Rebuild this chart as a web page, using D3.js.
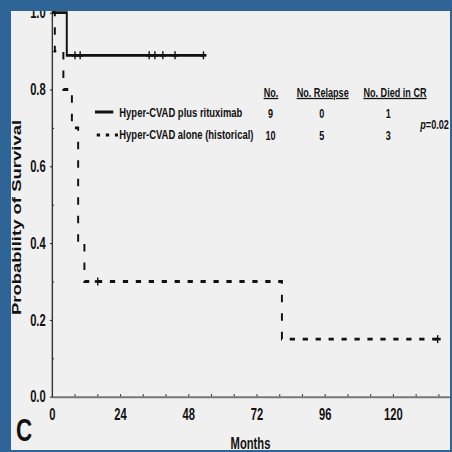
<!DOCTYPE html>
<html>
<head>
<meta charset="utf-8">
<script src="https://cdn.jsdelivr.net/npm/d3@7"></script>
<style>
  html, body { margin: 0; padding: 0; background: #2f6497; }
  svg { display: block; }
  text { font-family: "Liberation Sans", Arial, sans-serif; font-weight: bold; fill: #111; }
</style>
</head>
<body>
<svg id="chart" width="452" height="452"></svg>
<script>
// Kaplan-Meier curves, months vs probability
const rituxTimes = [0, 5.2, 53.5];
const rituxSurv = [1.0, 0.889, 0.889];
const rituxCensored = [8.1, 9.9, 34.2, 36.2, 39.0, 43.3, 53.3];

const histTimes = [0, 1, 4, 7, 9.2, 11.4, 80.9, 135.7];
const histSurv = [1.0, 0.9, 0.8, 0.7, 0.4, 0.3, 0.15, 0.15];
const histCensored = [16.1, 135.7];

const xTicks = [0, 24, 48, 72, 96, 120];
const yTicks = [0, 0.2, 0.4, 0.6, 0.8, 1.0];
const yMinorTicks = [0.1, 0.3, 0.5, 0.7, 0.9];

const legendLabels = ["Hyper-CVAD plus rituximab", "Hyper-CVAD alone (historical)"];
const tableHeaders = ["No.", "No. Relapse", "No. Died in CR"];
const tableRows = [[9, 0, 1], [10, 5, 3]];
const pValue = "0.02";

const W = 452, H = 452;
const squeeze = 0.7; // the whole figure looks squashed sideways
const sx = v => v / squeeze;

const svg = d3.select("#chart");

svg.append("rect").attr("width", W).attr("height", H).attr("fill", "#2f6497");
svg.append("defs").append("clipPath").attr("id", "panel")
  .append("rect").attr("x", 11).attr("y", 11).attr("width", 439).attr("height", 439);
svg.append("rect").attr("x", 11).attr("y", 11).attr("width", 439).attr("height", 439)
  .attr("fill", "#f0f0f0");

const fig = svg.append("g").attr("clip-path", "url(#panel)")
  .append("g").attr("transform", `scale(${squeeze},1)`);

const x = d3.scaleLinear().domain([0, 140]).range([sx(52), sx(449.9)]);
const y = d3.scaleLinear().domain([0, 1.01]).range([396.7, 396.7 - 384 * 1.01]);

// x axis
const xMinor = fig.append("g").attr("transform", `translate(0,${y(0)})`)
  .call(d3.axisBottom(x).tickValues(d3.range(8, 140, 8)).tickSize(-2.5).tickFormat(""));
xMinor.select(".domain").remove();
xMinor.selectAll("line").attr("stroke", "#333").attr("stroke-width", 1.6);

const xAxis = fig.append("g").attr("transform", `translate(0,${y(0)})`)
  .call(d3.axisBottom(x).tickValues(xTicks).tickSize(0).tickSizeOuter(0).tickPadding(12));
xAxis.attr("font-size", 16).attr("font-family", null);
xAxis.select(".domain").attr("stroke", "#777").attr("stroke-width", 2);

// y axis
const yMinor = fig.append("g").attr("transform", `translate(${x(0)},0)`)
  .call(d3.axisLeft(y).tickValues(yMinorTicks).tickSize(-3).tickFormat(""));
yMinor.select(".domain").remove();

const yAxis = fig.append("g").attr("transform", `translate(${x(0)},0)`)
  .call(d3.axisLeft(y).tickValues(yTicks).tickFormat(d3.format(".1f"))
    .tickSizeInner(3).tickSizeOuter(0).tickPadding(6));
yAxis.attr("font-size", 16).attr("font-family", null);
yAxis.select(".domain").attr("stroke", "#333").attr("stroke-width", 2);

// curves
const line = d3.line()
  .x(d => x(d[0]))
  .y(d => y(d[1]))
  .curve(d3.curveStepAfter);

fig.append("path")
  .datum(d3.zip(rituxTimes, rituxSurv))
  .attr("d", line)
  .attr("fill", "none")
  .attr("stroke", "#111")
  .attr("stroke-width", 2.8);

fig.append("path")
  .datum(d3.zip(histTimes, histSurv))
  .attr("d", line)
  .attr("fill", "none")
  .attr("stroke", "#111")
  .attr("stroke-width", 2.8)
  .attr("stroke-dasharray", "7.5,11");

function survAt(times, surv, t) {
  let s = surv[0];
  times.forEach((tt, i) => { if (tt <= t) s = surv[i]; });
  return s;
}

function censorMarks(times, surv, censored) {
  const g = fig.append("g").attr("stroke", "#111").attr("stroke-width", 2);
  censored.forEach(t => {
    const cx = x(t), cy = y(survAt(times, surv, t));
    g.append("line").attr("x1", cx).attr("x2", cx).attr("y1", cy - 4).attr("y2", cy + 4);
    g.append("line").attr("x1", cx - sx(3)).attr("x2", cx + sx(3)).attr("y1", cy).attr("y2", cy)
      .attr("stroke-width", 2.6);
  });
}
censorMarks(rituxTimes, rituxSurv, rituxCensored);
censorMarks(histTimes, histSurv, histCensored);

// text helpers (positions given in screen pixels)
function label(txt, px, py, size, anchor) {
  return fig.append("text")
    .attr("x", sx(px)).attr("y", py)
    .attr("font-size", size)
    .attr("text-anchor", anchor || "start")
    .text(txt);
}

// legend
const legendY = [117.5, 139.5];
fig.append("line").attr("x1", sx(95)).attr("x2", sx(113.3))
  .attr("y1", 112).attr("y2", 112).attr("stroke", "#111").attr("stroke-width", 3);
fig.append("line").attr("x1", sx(96.7)).attr("x2", sx(118))
  .attr("y1", 135).attr("y2", 135).attr("stroke", "#111").attr("stroke-width", 3)
  .attr("stroke-dasharray", "4.8,8.2");
legendLabels.forEach((t, i) => label(t, 119.3, legendY[i], 13.5));

// table
const colX = [271, 322.7, 395];
const valX = [270.5, 321.7, 388.3];
tableHeaders.forEach((t, i) => label(t, colX[i], 96.7, 13, "middle")
  .style("text-decoration", "underline"));
tableRows.forEach((row, r) => row.forEach((v, c) => label(v, valX[c], legendY[r] + 0.5, 13, "middle")));

const pText = label("", 420.3, 129.5, 13);
pText.append("tspan").attr("font-style", "italic").text("p");
pText.append("tspan").text("=" + pValue);

// titles
label("Months", 250.5, 448.8, 16, "middle");
label("C", 16, 441, 32);
fig.append("text")
  .attr("transform", `translate(${sx(20.5)},217.5) rotate(-90)`)
  .attr("text-anchor", "middle")
  .attr("font-size", 18.5)
  .text("Probability of Survival");
</script>
</body>
</html>
